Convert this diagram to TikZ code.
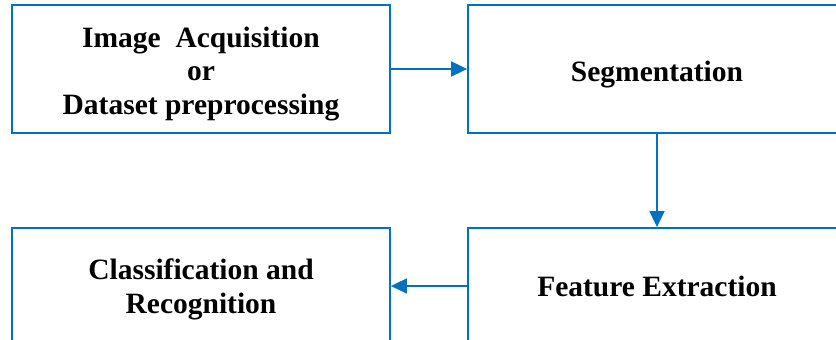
\documentclass[tikz,border=0pt]{standalone}
\usepackage{fontspec}
\setmainfont{Liberation Serif}
\usetikzlibrary{calc,arrows.meta}
\definecolor{flowblue}{RGB}{0,112,192}

\begin{document}
\begin{tikzpicture}[x=1pt,y=1pt,block/.style={draw=flowblue,line width=1.8pt,minimum width=378pt,minimum height=128pt,inner sep=0pt,align=center,font=\fontsize{29.5}{33.5}\selectfont\bfseries},arrow/.style={-{Triangle[length=16pt,width=15pt]},flowblue,line width=1.8pt}]
  \useasboundingbox (0,0) rectangle (836,340);
  \clip (0,0) rectangle (836,340);
  \node[block,text height=97pt,text depth=6.5pt] (acquisition) at (201,271) {Image\ \ Acquisition\\or\\Dataset preprocessing};
  \node[block,text height=31pt,text depth=6.5pt] (segmentation) at ($ (acquisition) + (456, 0) $) {Segmentation};
  \node[block,minimum height=116pt] (features) at ($ (segmentation) + (0, -217) $) {Feature Extraction};
  \node[block,minimum height=116pt,text height=61pt,text depth=6.5pt] (classification) at ($ (acquisition) + (0, -217) $) {Classification and\\Recognition};

  \draw[arrow] (acquisition) -- (segmentation);
  \draw[arrow] (segmentation) -- (features);
  \draw[arrow] (features) -- (classification);
\end{tikzpicture}
\end{document}
